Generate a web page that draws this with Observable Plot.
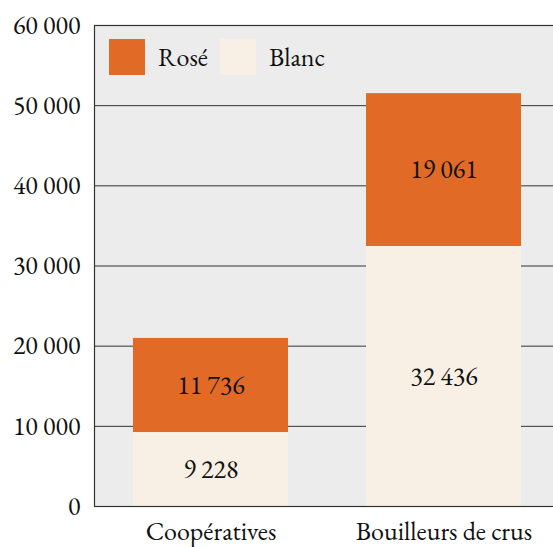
<!DOCTYPE html>
<html><head><meta charset="utf-8">
<script src="https://cdn.jsdelivr.net/npm/d3@7"></script>
<script src="https://cdn.jsdelivr.net/npm/@observablehq/plot@0.6"></script>
<style>
html,body{margin:0;padding:0;overflow:hidden;background:#fff;}
#wrap{position:relative;width:553px;height:547px;overflow:hidden;}
#legend{position:absolute;left:109px;top:39px;display:flex;align-items:center;font-size:26px;color:#111;}
#legend .sw{width:36px;height:36px;display:inline-block;margin-right:13px;}
#legend .item{display:flex;align-items:center;margin-right:12px;}
</style></head>
<body><div id="wrap"><div id="legend" style="font-family:'EB Garamond'"></div></div>
<script>
const categories = ["Coopératives", "Bouilleurs de crus"];
const series = ["Rosé", "Blanc"];
const blanc = [9228, 32436];
const rose = [11736, 19061];
const yTicks = [0, 10000, 20000, 30000, 40000, 50000, 60000];
const colors = {"Rosé": "#E06A26", "Blanc": "#F8F0E4"};

const data = [];
categories.forEach((c, i) => {
  data.push({cat: c, type: "Blanc", value: blanc[i]});
  data.push({cat: c, type: "Rosé", value: rose[i]});
});
const fmt = d => d3.format(",")(d).replace(/,/g, " ");

const chart = Plot.plot({
  width: 560, height: 547,
  marginLeft: 94, marginRight: 0, marginTop: 25, marginBottom: 41,
  style: {fontFamily: "EB Garamond", fontSize: "26px", color: "#111", background: "transparent", maxWidth: "none"},
  x: {domain: categories, padding: 0, label: null, tickSize: 0, tickPadding: 15},
  y: {domain: [0, 60000], ticks: yTicks, tickFormat: fmt, label: null, tickSize: 0, tickPadding: 14},
  color: {domain: series, range: series.map(s => colors[s])},
  marks: [
    Plot.frame({fill: "#ECECEC", stroke: null}),
    Plot.ruleY(yTicks.slice(1, -1), {stroke: "#333", strokeWidth: 1}),
    Plot.barY(data, Plot.stackY({x: "cat", y: "value", fill: "type", z: "type", order: ["Blanc", "Rosé"], insetLeft: 39, insetRight: 39})),
    Plot.text(data, Plot.stackY({x: "cat", y: "value", z: "type", text: d => fmt(d.value), order: ["Blanc", "Rosé"], fill: "#111", fontSize: 26})),
    Plot.ruleY([0, 60000], {stroke: "#333", strokeWidth: 1.2}),
    Plot.frame({stroke: "#333", fill: null, strokeWidth: 1.2})
  ]
});
document.getElementById("wrap").prepend(chart);

const legend = document.getElementById("legend");
series.forEach(s => {
  const it = document.createElement("div");
  it.className = "item";
  const sw = document.createElement("span");
  sw.className = "sw"; sw.style.background = colors[s];
  const t = document.createElement("span"); t.textContent = s;
  it.append(sw, t);
  legend.append(it);
});
</script></body></html>
